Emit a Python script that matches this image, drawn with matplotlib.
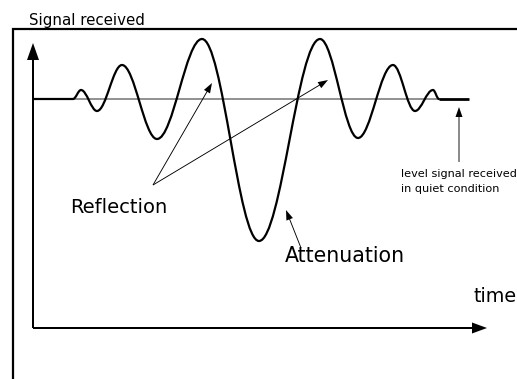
import matplotlib
matplotlib.use("Agg")
import matplotlib.pyplot as plt
from matplotlib.path import Path
from matplotlib.patches import PathPatch, Rectangle

# ---- data (diagram units: time from the axis origin, level above the time axis) ----
signal_time = [40, 48, 64, 89, 124, 169, 226, 287, 325, 360, 382, 400, 406]
signal_level = [229, 238, 217, 263, 189, 289, 87, 289, 190, 263, 217, 238, 229]
quiet_level = 229
quiet_start, quiet_end = 0, 436

time_axis_end = 454
level_axis_end = 285

reflection_origin = (120, 143)
reflection_targets = [(179, 245), (295, 248)]
attenuation_tail = (268, 80)
attenuation_tip = (253, 118)
quiet_tail = (426, 166)
quiet_tip = (426, 221)

labels = {
    "title": "Signal received",
    "reflection": "Reflection",
    "attenuation": "Attenuation",
    "time": "time",
    "quiet1": "level signal received",
    "quiet2": "in quiet condition",
}

# ---- figure ----
fig = plt.figure(figsize=(5.17, 3.79), dpi=100)
ax = fig.add_axes([0, 0, 1, 1])
ax.set_xlim(-33, 484)
ax.set_ylim(-51, 328)
ax.axis("off")

# outer frame (extends past right and bottom edges)
ax.add_patch(Rectangle((-20, -200), 700, 499, fill=False, lw=1.6,
                       edgecolor="black", clip_on=True))

# axes with arrows
ax.arrow(0, 0, 0, level_axis_end, width=2, head_width=12, head_length=17,
         length_includes_head=True, color="black", lw=0)
ax.arrow(0, 0, time_axis_end, 0, width=2, head_width=11, head_length=15,
         length_includes_head=True, color="black", lw=0)

# quiet level line
ax.plot([quiet_start, signal_time[-1]], [quiet_level, quiet_level],
        color="#888888", lw=1.3, solid_capstyle="butt", zorder=2)
ax.plot([quiet_start, signal_time[0]], [quiet_level, quiet_level],
        color="black", lw=1.6, solid_capstyle="butt", zorder=3)
ax.plot([signal_time[-1], quiet_end], [quiet_level, quiet_level],
        color="black", lw=2.0, solid_capstyle="butt", zorder=3)

# signal curve: smooth segments between successive extremes
k = 0.3634
verts = [(signal_time[0], signal_level[0])]
codes = [Path.MOVETO]
for i in range(len(signal_time) - 1):
    t0, t1 = signal_time[i], signal_time[i + 1]
    v0, v1 = signal_level[i], signal_level[i + 1]
    dt = t1 - t0
    verts += [(t0 + k * dt, v0), (t1 - k * dt, v1), (t1, v1)]
    codes += [Path.CURVE4] * 3
ax.add_patch(PathPatch(Path(verts, codes), fill=False, lw=1.6,
                       edgecolor="black", zorder=4, capstyle="round"))

# annotation arrows
def thin_arrow(p0, p1):
    ax.arrow(p0[0], p0[1], p1[0] - p0[0], p1[1] - p0[1], width=0.9,
             head_width=7, head_length=10, length_includes_head=True,
             color="black", lw=0, zorder=5)

for tgt in reflection_targets:
    thin_arrow(reflection_origin, tgt)
thin_arrow(attenuation_tail, attenuation_tip)
thin_arrow(quiet_tail, quiet_tip)

# texts
font = "DejaVu Sans"
ax.text(-4, 303, labels["title"], fontsize=10.8, family=font, va="baseline")
ax.text(37, 115, labels["reflection"], fontsize=14, family=font, va="baseline")
ax.text(252, 66, labels["attenuation"], fontsize=14.8, family=font, va="baseline")
ax.text(440, 26, labels["time"], fontsize=13.8, family=font, va="baseline")
ax.text(368, 151, labels["quiet1"], fontsize=8.1, family=font, va="baseline")
ax.text(368, 136, labels["quiet2"], fontsize=8.1, family=font, va="baseline")

fig.savefig("out.png", dpi=100)
